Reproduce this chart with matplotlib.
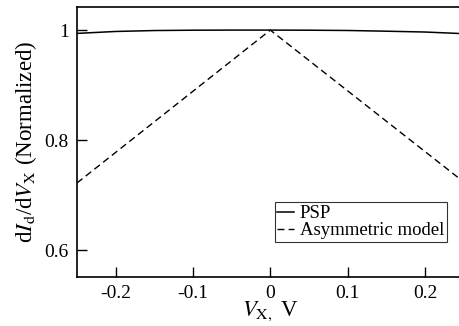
import matplotlib
matplotlib.use("Agg")
import matplotlib.pyplot as plt

plt.rcParams['font.family'] = ['Liberation Serif', 'DejaVu Serif']
plt.rcParams['mathtext.fontset'] = 'stix'

# values
vx_psp = [-0.25, -0.2, -0.15, -0.1, -0.05, 0.0, 0.05, 0.1, 0.15, 0.2, 0.25]
psp = [0.994, 0.9975, 0.9992, 0.9998, 1.0, 1.0, 0.9998, 0.9993, 0.998, 0.9965, 0.9935]

vx_asym = [-0.25, 0.0, 0.25]
asym = [0.722, 1.0, 0.724]

xticks = [-0.2, -0.1, 0, 0.1, 0.2]
xticklabels = ["-0.2", "-0.1", "0", "0.1", "0.2"]
yticks = [0.6, 0.8, 1.0]
yticklabels = ["0.6", "0.8", "1"]

fig = plt.figure(figsize=(4.59, 3.26), dpi=100)
ax = fig.add_axes([77/459, 1 - 277/326, (463.6 - 77)/459, 270/326])

ax.plot(vx_psp, psp, color="black", lw=1.1, label="PSP")
ax.plot(vx_asym, asym, color="black", lw=1.0, ls=(0, (5, 3)), label="Asymmetric model")

ax.set_xlim(-0.25, 0.25)
ax.set_ylim(0.551, 1.042)
ax.set_xticks(xticks)
ax.set_xticklabels(xticklabels)
ax.set_yticks(yticks)
ax.set_yticklabels(yticklabels)
ax.tick_params(direction="in", length=7, width=1, labelsize=14, pad=6)
ax.spines["right"].set_visible(False)
for s in ["left", "bottom", "top"]:
    ax.spines[s].set_linewidth(1.2)

ax.set_xlabel(r"$V_{\mathrm{X},}$ V", fontsize=16.5, labelpad=-2)
ax.set_ylabel(r"d$I_\mathrm{d}$/d$V_\mathrm{X}$ (Normalized)", fontsize=16.5, labelpad=4)

leg = ax.legend(loc="lower right", bbox_to_anchor=((447 - 77)/386.6, (277 - 242)/270),
                fontsize=13.5, frameon=True, fancybox=False, handlelength=0.9,
                handletextpad=0.3, borderpad=0.15, labelspacing=0.0, borderaxespad=0)
leg.get_frame().set_edgecolor("black")
leg.get_frame().set_linewidth(0.8)

fig.savefig("out.png", dpi=100)
